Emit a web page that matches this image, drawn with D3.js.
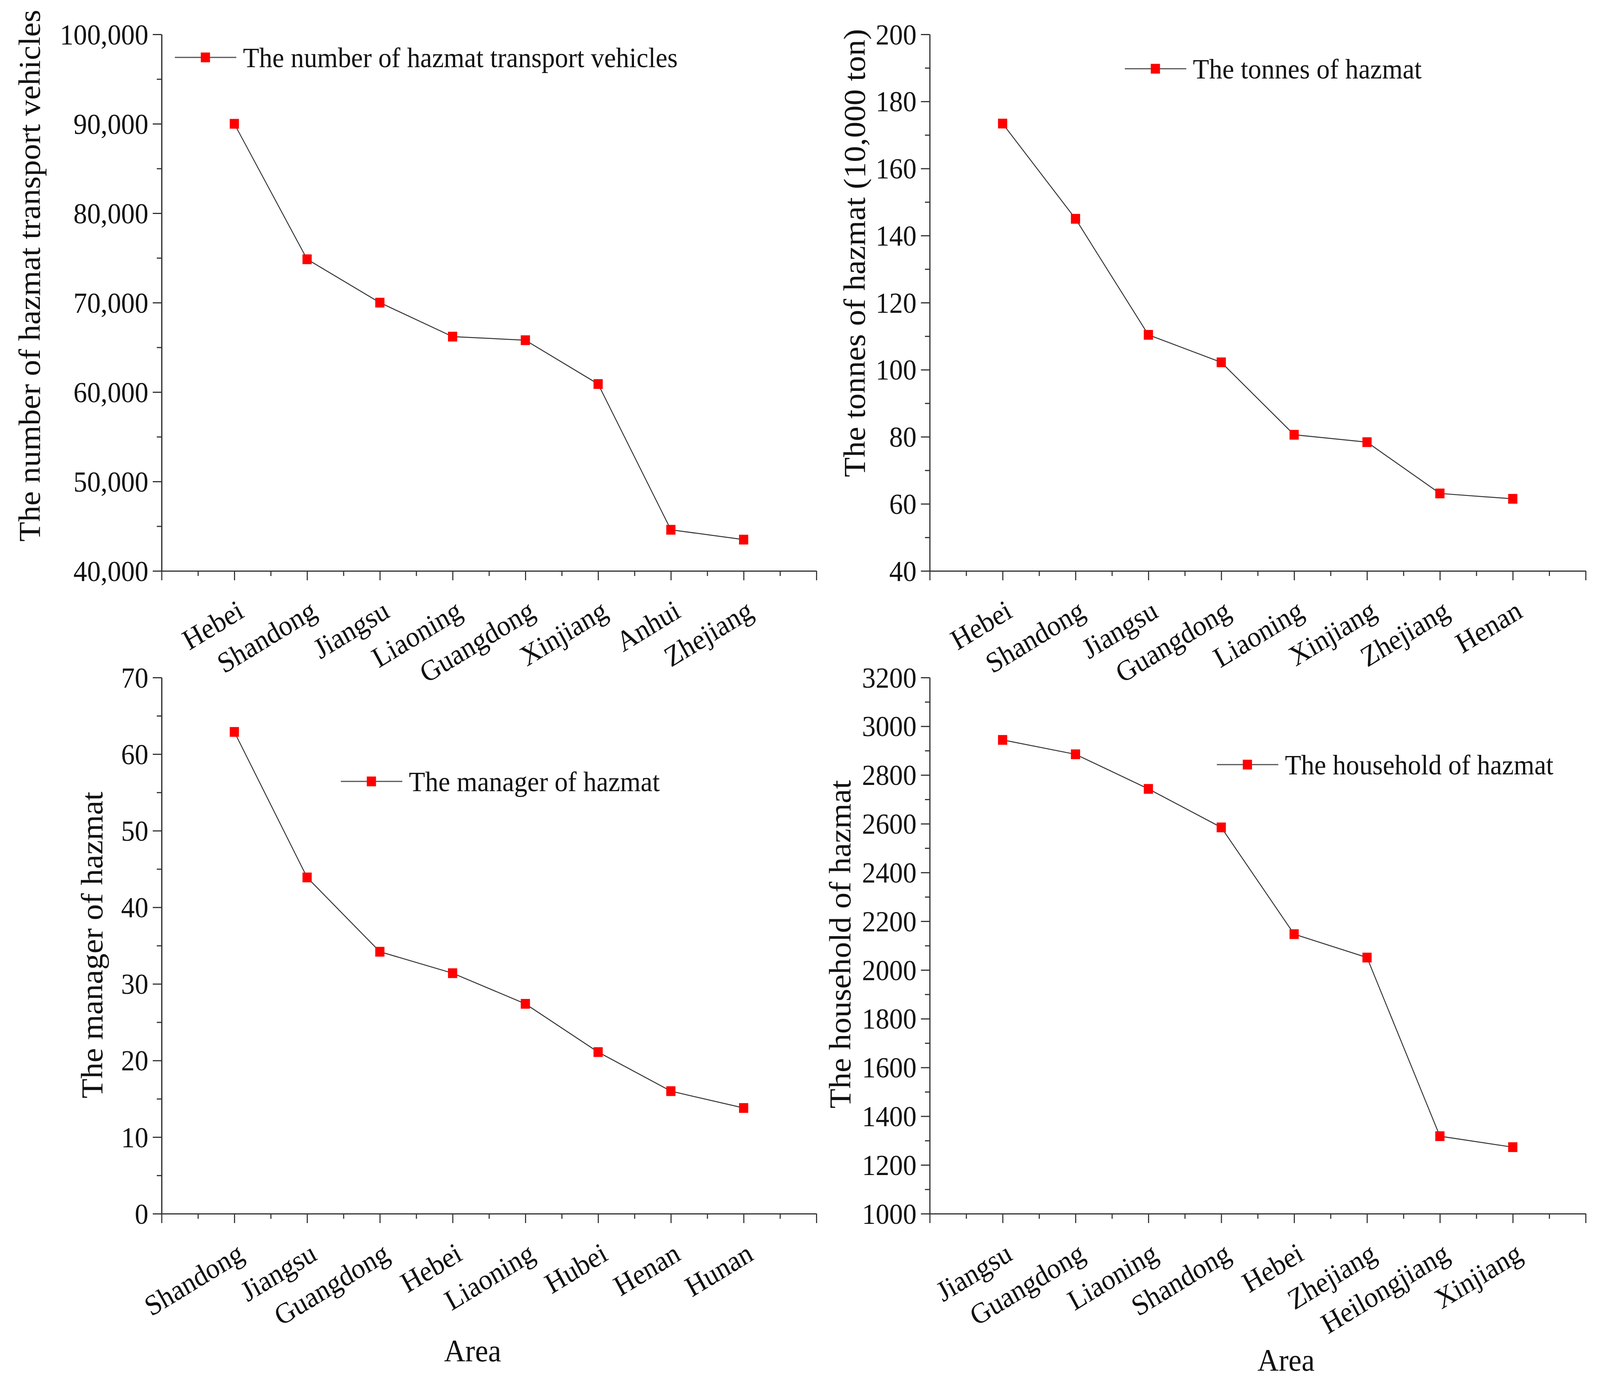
<!DOCTYPE html>
<html lang="en">
<head>
  <meta charset="UTF-8">
  <title>Hazmat by area</title>
  <script src="https://d3js.org/d3.v7.min.js"></script>
  <style>
    html, body { margin: 0; padding: 0; background: #fff; overflow: hidden; }
    svg { display: block; width: 100vw; height: 100vh; }
    text { font-family: "Liberation Serif", "Times New Roman", serif; fill: #111; }
    .axis path, .axis line { stroke: #333; stroke-width: 3; }
    .axis text { font-size: 74px; fill: #111; font-family: "Liberation Serif", "Times New Roman", serif; }
  </style>
</head>
<body>
  <div id="chart"></div>
  <script>
    // data
    const vehicleAreas = ["Hebei", "Shandong", "Jiangsu", "Liaoning", "Guangdong", "Xinjiang", "Anhui", "Zhejiang"];
    const vehicleValues = [90000, 74850, 70000, 66200, 65800, 60900, 44600, 43500];

    const tonneAreas = ["Hebei", "Shandong", "Jiangsu", "Guangdong", "Liaoning", "Xinjiang", "Zhejiang", "Henan"];
    const tonneValues = [173.4, 145, 110.4, 102.2, 80.6, 78.4, 63.1, 61.5];

    const managerAreas = ["Shandong", "Jiangsu", "Guangdong", "Hebei", "Liaoning", "Hubei", "Henan", "Hunan"];
    const managerValues = [62.9, 43.9, 34.2, 31.4, 27.4, 21.1, 16.0, 13.8];

    const householdAreas = ["Jiangsu", "Guangdong", "Liaoning", "Shandong", "Hebei", "Zhejiang", "Heilongjiang", "Xinjiang"];
    const householdValues = [2944, 2885, 2743, 2585, 2147, 2051, 1318, 1273];

    const vehicleTicks = [40000, 50000, 60000, 70000, 80000, 90000, 100000];
    const tonneTicks = [40, 60, 80, 100, 120, 140, 160, 180, 200];
    const managerTicks = [0, 10, 20, 30, 40, 50, 60, 70];
    const householdTicks = [1000, 1200, 1400, 1600, 1800, 2000, 2200, 2400, 2600, 2800, 3000, 3200];

    const width = 4347, height = 3539;

    // stretch the drawing over the whole window
    const svg = d3.select("#chart")
      .append("svg")
      .attr("viewBox", `0 0 ${width} ${height}`)
      .attr("preserveAspectRatio", "none");

    const panels = [
      {
        areas: vehicleAreas, values: vehicleValues, ticks: vehicleTicks, minorStep: 5000, fmt: d3.format(","),
        xr: [439, 2218], yr: [1462, 88],
        title: "The number of hazmat transport vehicles", titleX: 108, titleY: 706,
        legend: "The number of hazmat transport vehicles", legX: 475, legY: 147,
        area: null
      },
      {
        areas: tonneAreas, values: tonneValues, ticks: tonneTicks, minorStep: 10, fmt: d3.format("d"),
        xr: [2526, 4308], yr: [1462, 88],
        title: "The tonnes of hazmat (10,000 ton)", titleX: 2350, titleY: 648,
        legend: "The tonnes of hazmat", legX: 3056, legY: 176,
        area: null
      },
      {
        areas: managerAreas, values: managerValues, ticks: managerTicks, minorStep: 5, fmt: d3.format("d"),
        xr: [439, 2218], yr: [3108, 1735],
        title: "The manager of hazmat", titleX: 278, titleY: 2420,
        legend: "The manager of hazmat", legX: 926, legY: 2001,
        area: [1284, 3486]
      },
      {
        areas: householdAreas, values: householdValues, ticks: householdTicks, minorStep: 100, fmt: d3.format("d"),
        xr: [2526, 4308], yr: [3108, 1735],
        title: "The household of hazmat", titleX: 2310, titleY: 2418,
        legend: "The household of hazmat", legX: 3306, legY: 1958,
        area: [3494, 3510]
      }
    ];

    panels.forEach(p => drawPanel(p));

    function drawPanel(p) {
      const x = d3.scaleLinear().domain([0, 9]).range(p.xr);
      const lo = p.ticks[0], hi = p.ticks[p.ticks.length - 1];
      const y = d3.scaleLinear().domain([lo, hi]).range(p.yr);

      const minorY = d3.range(lo + p.minorStep, hi, p.minorStep * 2);
      const minorX = d3.range(0.5, 9, 1);

      // minor ticks
      svg.append("g")
        .attr("class", "axis")
        .attr("transform", `translate(${p.xr[0]},0)`)
        .call(d3.axisLeft(y).tickValues(minorY).tickSize(13).tickSizeOuter(0).tickFormat(""));
      svg.append("g")
        .attr("class", "axis")
        .attr("transform", `translate(0,${p.yr[0]})`)
        .call(d3.axisBottom(x).tickValues(minorX).tickSize(13).tickSizeOuter(0).tickFormat(""));

      // y axis
      const yAxis = svg.append("g")
        .attr("class", "axis")
        .attr("transform", `translate(${p.xr[0]},0)`)
        .call(d3.axisLeft(y).tickValues(p.ticks).tickSize(24).tickSizeOuter(0).tickPadding(12).tickFormat(p.fmt));
      yAxis.selectAll("text").attr("dy", "0.34em");

      // x axis with rotated category labels
      const xAxis = svg.append("g")
        .attr("class", "axis")
        .attr("transform", `translate(0,${p.yr[0]})`)
        .call(d3.axisBottom(x).tickValues(d3.range(0, 10)).tickSize(24).tickSizeOuter(0)
          .tickFormat(i => p.areas[i - 1] || ""));
      xAxis.selectAll("text")
        .attr("x", 0).attr("y", 0).attr("dy", null)
        .attr("text-anchor", "end")
        .attr("transform", "translate(30,116) rotate(-30)");

      // y title
      svg.append("text")
        .attr("transform", `translate(${p.titleX},${p.titleY}) rotate(-90)`)
        .attr("text-anchor", "middle")
        .attr("font-size", 83)
        .text(p.title);

      if (p.area) {
        svg.append("text")
          .attr("x", p.area[0]).attr("y", p.area[1])
          .attr("text-anchor", "middle")
          .attr("font-size", 80)
          .text("Area");
      }

      // series
      const line = d3.line()
        .x((d, i) => x(i + 1))
        .y(d => y(d));

      svg.append("path")
        .datum(p.values)
        .attr("fill", "none")
        .attr("stroke", "#333")
        .attr("stroke-width", 2.5)
        .attr("d", line);

      const ms = 25;
      svg.selectAll(null)
        .data(p.values)
        .enter()
        .append("rect")
        .attr("x", (d, i) => x(i + 1) - ms / 2)
        .attr("y", d => y(d) - ms / 2)
        .attr("width", ms)
        .attr("height", ms)
        .attr("fill", "#ff0000");

      // legend
      const leg = svg.append("g").attr("transform", `translate(${p.legX},${p.legY})`);
      leg.append("line")
        .attr("x1", 0).attr("x2", 167).attr("y1", 0).attr("y2", 0)
        .attr("stroke", "#555").attr("stroke-width", 3);
      leg.append("rect")
        .attr("x", 83 - ms / 2).attr("y", -ms / 2)
        .attr("width", ms).attr("height", ms)
        .attr("fill", "#ff0000");
      leg.append("text")
        .attr("x", 185).attr("y", 25)
        .attr("font-size", 72)
        .text(p.legend);
    }
  </script>
</body>
</html>
